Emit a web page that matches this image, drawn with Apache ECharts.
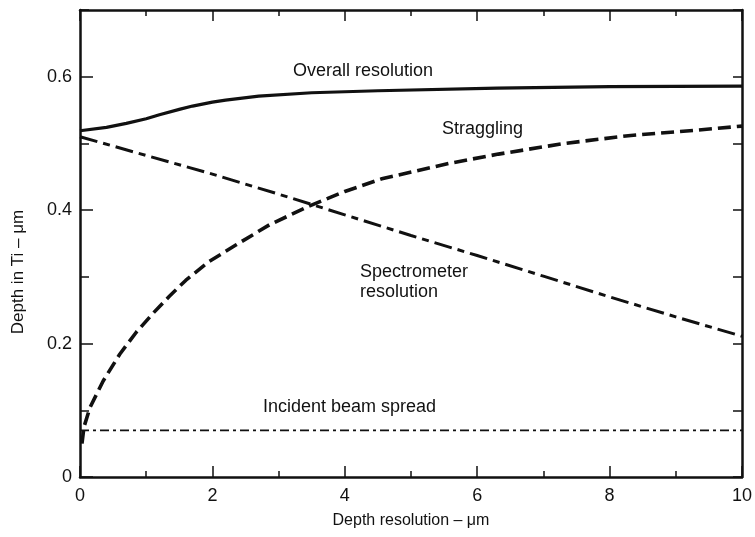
<!DOCTYPE html>
<html>
<head>
<meta charset="utf-8">
<script src="https://cdn.jsdelivr.net/npm/echarts@6/dist/echarts.min.js"></script>
<style>
  html, body { margin: 0; padding: 0; background: #fff; }
  #chart { width: 755px; height: 537px; }
</style>
</head>
<body>
<div id="chart"></div>
<script>
// Depth resolution components for Ti (values in µm)
const overallX = [0, 0.4, 0.7, 1.0, 1.2, 1.5, 1.7, 2.0, 2.2, 2.7, 3.5, 4.5, 6.3, 8, 10];
const overallY = [0.519, 0.524, 0.530, 0.537, 0.543, 0.551, 0.556, 0.562, 0.565, 0.571, 0.576, 0.579, 0.583, 0.585, 0.586];

const stragglingX = [0.03, 0.06, 0.15, 0.35, 0.6, 0.85, 1.1, 1.35, 1.6, 1.95, 2.36, 2.86, 3.46, 4.0, 4.56, 5.57, 6.32, 7.32, 8.32, 9.33, 10];
const stragglingY = [0.05, 0.075, 0.104, 0.144, 0.184, 0.217, 0.245, 0.271, 0.295, 0.323, 0.348, 0.378, 0.406, 0.428, 0.447, 0.470, 0.484, 0.500, 0.512, 0.520, 0.526];

const spectrometerX = [0, 1, 2, 3, 4, 5, 6, 7, 8, 9, 10];
const spectrometerY = [0.51, 0.482, 0.454, 0.424, 0.393, 0.362, 0.332, 0.301, 0.270, 0.240, 0.211];

const beamX = [0, 10];
const beamY = [0.07, 0.07];

const xTicks = [0, 2, 4, 6, 8, 10];
const yTicks = [0, 0.2, 0.4, 0.6];

const INK = '#111';
const FONT = '"Liberation Sans", Arial, sans-serif';

const pairs = (xs, ys) => xs.map((x, i) => [x, ys[i]]);

const chart = echarts.init(document.getElementById('chart'), null, { renderer: 'canvas' });

const frameLine = { show: true, onZero: false, lineStyle: { color: INK, width: 2.5 } };

const option = {
  backgroundColor: '#fff',
  animation: false,
  grid: { left: 80, right: 9, top: 10, bottom: 60, containLabel: false },
  xAxis: [
    {
      type: 'value', position: 'bottom', min: 0, max: 10, interval: 2,
      axisLine: frameLine,
      axisTick: { inside: true, length: 11, lineStyle: { color: INK, width: 1.5 } },
      minorTick: { show: true, splitNumber: 2, length: 6, lineStyle: { color: INK, width: 1.5 } },
      splitLine: { show: false },
      axisLabel: {
        color: INK, fontSize: 18, fontFamily: FONT, margin: 10,
        formatter: v => (xTicks.includes(Math.round(v)) ? String(Math.round(v)) : '')
      },
      name: 'Depth resolution \u2013 \u03bcm',
      nameLocation: 'middle', nameGap: 36,
      nameTextStyle: { color: INK, fontSize: 16, fontFamily: FONT }
    },
    {
      type: 'value', position: 'top', min: 0, max: 10, interval: 2,
      axisLine: frameLine,
      axisTick: { inside: true, length: 11, lineStyle: { color: INK, width: 1.5 } },
      minorTick: { show: true, splitNumber: 2, length: 6, lineStyle: { color: INK, width: 1.5 } },
      splitLine: { show: false },
      axisLabel: { show: false }
    }
  ],
  yAxis: [
    {
      type: 'value', position: 'left', min: 0, max: 0.7, interval: 0.2,
      axisLine: frameLine,
      axisTick: { inside: true, length: 13, lineStyle: { color: INK, width: 1.5 } },
      splitLine: { show: false },
      axisLabel: {
        color: INK, fontSize: 18, fontFamily: FONT, margin: 8, showMaxLabel: false,
        formatter: v => {
          const hit = yTicks.find(t => Math.abs(t - v) < 1e-6);
          return hit === undefined ? '' : (hit === 0 ? '0' : hit.toFixed(1));
        }
      }
    },
    {
      type: 'value', position: 'left', min: 0, max: 0.7, interval: 0.1,
      axisLine: { show: false },
      axisTick: { inside: true, length: 9, lineStyle: { color: INK, width: 1.5 } },
      splitLine: { show: false },
      axisLabel: { show: false }
    },
    {
      type: 'value', position: 'right', min: 0, max: 0.7, interval: 0.1,
      axisLine: frameLine,
      axisTick: { inside: true, length: 9, lineStyle: { color: INK, width: 1.5 } },
      splitLine: { show: false },
      axisLabel: { show: false }
    }
  ],
  series: [
    {
      name: 'Overall resolution', type: 'line', smooth: false, symbol: 'none',
      data: pairs(overallX, overallY),
      lineStyle: { color: INK, width: 3.2, join: 'round' }
    },
    {
      name: 'Straggling', type: 'line', smooth: false, symbol: 'none',
      data: pairs(stragglingX, stragglingY),
      lineStyle: { color: INK, width: 3.6, type: [13, 6], join: 'round' }
    },
    {
      name: 'Spectrometer resolution', type: 'line', smooth: false, symbol: 'none',
      data: pairs(spectrometerX, spectrometerY),
      lineStyle: { color: INK, width: 3, type: [18, 6, 7, 6] }
    },
    {
      name: 'Incident beam spread', type: 'line', symbol: 'none',
      data: pairs(beamX, beamY),
      lineStyle: { color: INK, width: 1.8, type: [9, 4, 3, 4] }
    }
  ],
  graphic: [
    { type: 'text', left: 293, top: 62, style: { text: 'Overall resolution', fill: INK, font: '18px ' + FONT } },
    { type: 'text', left: 442, top: 120, style: { text: 'Straggling', fill: INK, font: '18px ' + FONT } },
    { type: 'text', left: 360, top: 262, style: { text: 'Spectrometer\nresolution', fill: INK, font: '18px ' + FONT, lineHeight: 20 } },
    { type: 'text', left: 263, top: 398, style: { text: 'Incident beam spread', fill: INK, font: '18px ' + FONT } },
    {
      type: 'text', x: 18, y: 272, rotation: Math.PI / 2,
      style: { text: 'Depth in Ti \u2013 \u03bcm', fill: INK, font: '17px ' + FONT, align: 'center', verticalAlign: 'middle' }
    }
  ]
};

chart.setOption(option);
</script>
</body>
</html>
